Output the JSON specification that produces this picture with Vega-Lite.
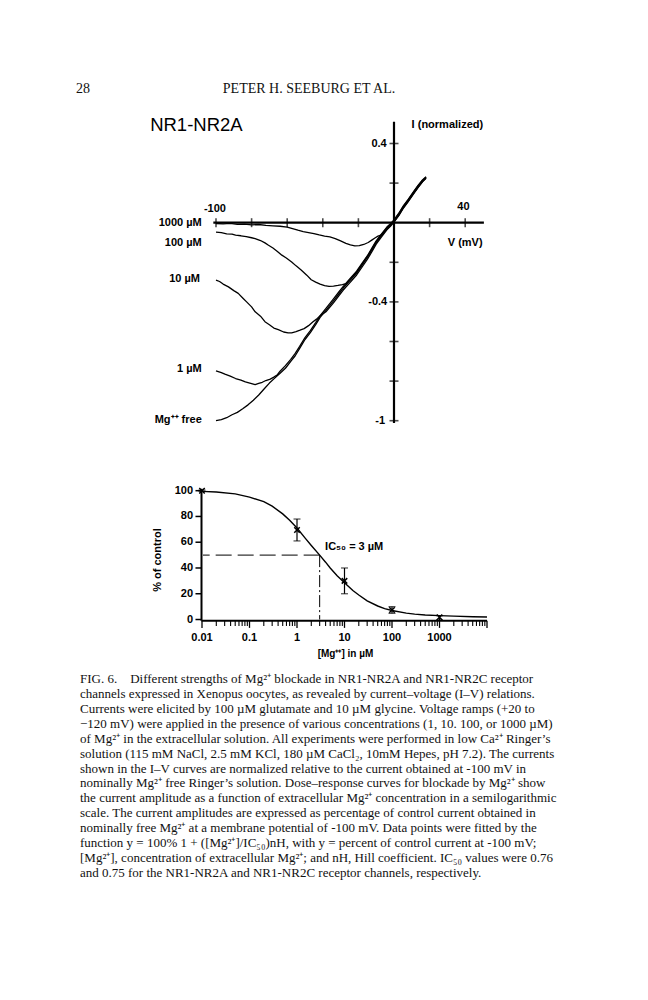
{
 "$schema": "https://vega.github.io/schema/vega-lite/v6.json",
 "width": 648, "height": 1000,
 "autosize": {"type": "none"},
 "padding": 0,
 "background": "white",
 "config": {"view": {"stroke": null}, "text": {"font": "Liberation Sans", "color": "black"}},
 "datasets": {
  "iv": [
   {"trace":"Mg free","V":-100,"I":-1.0},{"trace":"Mg free","V":-97,"I":-0.995},{"trace":"Mg free","V":-94,"I":-0.985},{"trace":"Mg free","V":-91,"I":-0.97},{"trace":"Mg free","V":-88,"I":-0.958},{"trace":"Mg free","V":-85,"I":-0.94},{"trace":"Mg free","V":-82,"I":-0.92},{"trace":"Mg free","V":-79,"I":-0.897},{"trace":"Mg free","V":-76,"I":-0.87},{"trace":"Mg free","V":-73,"I":-0.84},{"trace":"Mg free","V":-70,"I":-0.81},{"trace":"Mg free","V":-67,"I":-0.785},{"trace":"Mg free","V":-64,"I":-0.76},{"trace":"Mg free","V":-61,"I":-0.735},{"trace":"Mg free","V":-58,"I":-0.7},{"trace":"Mg free","V":-55.5,"I":-0.672},{"trace":"Mg free","V":-53,"I":-0.635},{"trace":"Mg free","V":-50,"I":-0.59},{"trace":"Mg free","V":-47,"I":-0.555},{"trace":"Mg free","V":-44,"I":-0.515},{"trace":"Mg free","V":-41.5,"I":-0.478},{"trace":"Mg free","V":-38,"I":-0.44},{"trace":"Mg free","V":-34,"I":-0.395},{"trace":"Mg free","V":-31,"I":-0.36},{"trace":"Mg free","V":-28.5,"I":-0.33},{"trace":"Mg free","V":-25,"I":-0.295},{"trace":"Mg free","V":-21,"I":-0.255},{"trace":"Mg free","V":-18,"I":-0.215},{"trace":"Mg free","V":-15,"I":-0.175},{"trace":"Mg free","V":-12.5,"I":-0.14},{"trace":"Mg free","V":-10,"I":-0.1},{"trace":"Mg free","V":-7,"I":-0.065},{"trace":"Mg free","V":-4,"I":-0.03},{"trace":"Mg free","V":-2,"I":-0.012},{"trace":"Mg free","V":0,"I":0.008},{"trace":"Mg free","V":3,"I":0.045},{"trace":"Mg free","V":5,"I":0.075},{"trace":"Mg free","V":8,"I":0.112},{"trace":"Mg free","V":11,"I":0.15},{"trace":"Mg free","V":13.5,"I":0.182},{"trace":"Mg free","V":16,"I":0.21},{"trace":"Mg free","V":18,"I":0.228},
   {"trace":"1 uM","V":-100,"I":-0.748},{"trace":"1 uM","V":-97,"I":-0.757},{"trace":"1 uM","V":-95,"I":-0.765},{"trace":"1 uM","V":-92,"I":-0.775},{"trace":"1 uM","V":-89,"I":-0.787},{"trace":"1 uM","V":-86,"I":-0.795},{"trace":"1 uM","V":-83.5,"I":-0.804},{"trace":"1 uM","V":-81,"I":-0.81},{"trace":"1 uM","V":-78,"I":-0.818},{"trace":"1 uM","V":-76,"I":-0.812},{"trace":"1 uM","V":-74,"I":-0.806},{"trace":"1 uM","V":-72,"I":-0.797},{"trace":"1 uM","V":-69.5,"I":-0.79},{"trace":"1 uM","V":-67.5,"I":-0.78},{"trace":"1 uM","V":-65.5,"I":-0.768},{"trace":"1 uM","V":-64,"I":-0.75},{"trace":"1 uM","V":-61,"I":-0.722},{"trace":"1 uM","V":-58,"I":-0.69},{"trace":"1 uM","V":-55.5,"I":-0.66},{"trace":"1 uM","V":-53,"I":-0.625},{"trace":"1 uM","V":-50,"I":-0.58},{"trace":"1 uM","V":-47,"I":-0.545},{"trace":"1 uM","V":-44,"I":-0.505},{"trace":"1 uM","V":-41.5,"I":-0.47},{"trace":"1 uM","V":-38,"I":-0.43},{"trace":"1 uM","V":-34,"I":-0.385},{"trace":"1 uM","V":-31,"I":-0.35},{"trace":"1 uM","V":-28.5,"I":-0.322},{"trace":"1 uM","V":-25,"I":-0.285},{"trace":"1 uM","V":-21,"I":-0.245},{"trace":"1 uM","V":-18,"I":-0.205},{"trace":"1 uM","V":-15,"I":-0.168},{"trace":"1 uM","V":-12.5,"I":-0.13},{"trace":"1 uM","V":-10,"I":-0.092},{"trace":"1 uM","V":-7,"I":-0.057},{"trace":"1 uM","V":-4,"I":-0.022},{"trace":"1 uM","V":-2,"I":-0.005},{"trace":"1 uM","V":0,"I":0.014},{"trace":"1 uM","V":3,"I":0.052},{"trace":"1 uM","V":5,"I":0.082},{"trace":"1 uM","V":8,"I":0.118},{"trace":"1 uM","V":11,"I":0.157},{"trace":"1 uM","V":13.5,"I":0.188},{"trace":"1 uM","V":16,"I":0.216},{"trace":"1 uM","V":18,"I":0.232},
   {"trace":"10 uM","V":-100,"I":-0.29},{"trace":"10 uM","V":-98,"I":-0.297},{"trace":"10 uM","V":-96,"I":-0.31},{"trace":"10 uM","V":-93,"I":-0.324},{"trace":"10 uM","V":-90,"I":-0.343},{"trace":"10 uM","V":-87.5,"I":-0.357},{"trace":"10 uM","V":-85,"I":-0.38},{"trace":"10 uM","V":-82.8,"I":-0.4},{"trace":"10 uM","V":-80,"I":-0.425},{"trace":"10 uM","V":-78,"I":-0.45},{"trace":"10 uM","V":-75,"I":-0.472},{"trace":"10 uM","V":-72.5,"I":-0.5},{"trace":"10 uM","V":-70,"I":-0.515},{"trace":"10 uM","V":-67.5,"I":-0.532},{"trace":"10 uM","V":-65,"I":-0.54},{"trace":"10 uM","V":-62,"I":-0.552},{"trace":"10 uM","V":-59.5,"I":-0.556},{"trace":"10 uM","V":-57.5,"I":-0.556},{"trace":"10 uM","V":-55,"I":-0.55},{"trace":"10 uM","V":-52.8,"I":-0.543},{"trace":"10 uM","V":-50.5,"I":-0.535},{"trace":"10 uM","V":-48,"I":-0.52},{"trace":"10 uM","V":-45.5,"I":-0.5},{"trace":"10 uM","V":-43.5,"I":-0.487},{"trace":"10 uM","V":-41.5,"I":-0.47},{"trace":"10 uM","V":-38,"I":-0.448},{"trace":"10 uM","V":-34,"I":-0.405},{"trace":"10 uM","V":-31,"I":-0.37},{"trace":"10 uM","V":-28.5,"I":-0.34},{"trace":"10 uM","V":-25,"I":-0.305},{"trace":"10 uM","V":-21,"I":-0.264},{"trace":"10 uM","V":-18,"I":-0.225},{"trace":"10 uM","V":-15,"I":-0.185},{"trace":"10 uM","V":-12.5,"I":-0.148},{"trace":"10 uM","V":-10,"I":-0.108},{"trace":"10 uM","V":-7,"I":-0.072},{"trace":"10 uM","V":-4,"I":-0.036},{"trace":"10 uM","V":-2,"I":-0.018},{"trace":"10 uM","V":0,"I":0.003},{"trace":"10 uM","V":3,"I":0.04},{"trace":"10 uM","V":5,"I":0.07},{"trace":"10 uM","V":8,"I":0.107},{"trace":"10 uM","V":11,"I":0.145},{"trace":"10 uM","V":13.5,"I":0.177},{"trace":"10 uM","V":16,"I":0.206},{"trace":"10 uM","V":18,"I":0.224},
   {"trace":"100 uM","V":-100,"I":-0.048},{"trace":"100 uM","V":-97,"I":-0.05},{"trace":"100 uM","V":-94,"I":-0.056},{"trace":"100 uM","V":-91,"I":-0.058},{"trace":"100 uM","V":-89,"I":-0.063},{"trace":"100 uM","V":-86,"I":-0.066},{"trace":"100 uM","V":-83,"I":-0.07},{"trace":"100 uM","V":-80,"I":-0.076},{"trace":"100 uM","V":-78,"I":-0.08},{"trace":"100 uM","V":-75,"I":-0.09},{"trace":"100 uM","V":-72.5,"I":-0.102},{"trace":"100 uM","V":-70.5,"I":-0.114},{"trace":"100 uM","V":-68,"I":-0.128},{"trace":"100 uM","V":-65.5,"I":-0.145},{"trace":"100 uM","V":-63,"I":-0.164},{"trace":"100 uM","V":-60.5,"I":-0.178},{"trace":"100 uM","V":-57.5,"I":-0.198},{"trace":"100 uM","V":-55,"I":-0.218},{"trace":"100 uM","V":-52,"I":-0.24},{"trace":"100 uM","V":-49,"I":-0.265},{"trace":"100 uM","V":-46.5,"I":-0.288},{"trace":"100 uM","V":-44,"I":-0.3},{"trace":"100 uM","V":-41.5,"I":-0.31},{"trace":"100 uM","V":-39,"I":-0.318},{"trace":"100 uM","V":-36.5,"I":-0.322},{"trace":"100 uM","V":-34,"I":-0.32},{"trace":"100 uM","V":-31.5,"I":-0.317},{"trace":"100 uM","V":-29,"I":-0.313},{"trace":"100 uM","V":-27,"I":-0.308},{"trace":"100 uM","V":-25,"I":-0.29},{"trace":"100 uM","V":-21,"I":-0.25},{"trace":"100 uM","V":-18,"I":-0.21},{"trace":"100 uM","V":-15,"I":-0.17},{"trace":"100 uM","V":-12.5,"I":-0.134},{"trace":"100 uM","V":-10,"I":-0.096},{"trace":"100 uM","V":-7,"I":-0.06},{"trace":"100 uM","V":-4,"I":-0.026},{"trace":"100 uM","V":-2,"I":-0.008},{"trace":"100 uM","V":0,"I":0.011},{"trace":"100 uM","V":3,"I":0.049},{"trace":"100 uM","V":5,"I":0.079},{"trace":"100 uM","V":8,"I":0.116},{"trace":"100 uM","V":11,"I":0.154},{"trace":"100 uM","V":13.5,"I":0.186},{"trace":"100 uM","V":16,"I":0.213},{"trace":"100 uM","V":18,"I":0.23},
   {"trace":"1000 uM","V":-100,"I":-0.004},{"trace":"1000 uM","V":-96,"I":-0.006},{"trace":"1000 uM","V":-92,"I":-0.003},{"trace":"1000 uM","V":-88,"I":-0.008},{"trace":"1000 uM","V":-84,"I":-0.007},{"trace":"1000 uM","V":-80,"I":-0.011},{"trace":"1000 uM","V":-76,"I":-0.009},{"trace":"1000 uM","V":-72,"I":-0.014},{"trace":"1000 uM","V":-68,"I":-0.016},{"trace":"1000 uM","V":-64,"I":-0.018},{"trace":"1000 uM","V":-60,"I":-0.022},{"trace":"1000 uM","V":-57,"I":-0.03},{"trace":"1000 uM","V":-54,"I":-0.038},{"trace":"1000 uM","V":-51,"I":-0.045},{"trace":"1000 uM","V":-48,"I":-0.05},{"trace":"1000 uM","V":-45,"I":-0.055},{"trace":"1000 uM","V":-42,"I":-0.062},{"trace":"1000 uM","V":-39,"I":-0.068},{"trace":"1000 uM","V":-36,"I":-0.072},{"trace":"1000 uM","V":-33,"I":-0.08},{"trace":"1000 uM","V":-30,"I":-0.092},{"trace":"1000 uM","V":-27,"I":-0.104},{"trace":"1000 uM","V":-24.5,"I":-0.112},{"trace":"1000 uM","V":-22,"I":-0.117},{"trace":"1000 uM","V":-19.5,"I":-0.116},{"trace":"1000 uM","V":-17,"I":-0.11},{"trace":"1000 uM","V":-14.5,"I":-0.1},{"trace":"1000 uM","V":-12.5,"I":-0.088},{"trace":"1000 uM","V":-10.5,"I":-0.076},{"trace":"1000 uM","V":-9,"I":-0.068},{"trace":"1000 uM","V":-7,"I":-0.062},{"trace":"1000 uM","V":-4,"I":-0.032},{"trace":"1000 uM","V":-2,"I":-0.015},{"trace":"1000 uM","V":0,"I":0.005},{"trace":"1000 uM","V":3,"I":0.042},{"trace":"1000 uM","V":5,"I":0.072},{"trace":"1000 uM","V":8,"I":0.109},{"trace":"1000 uM","V":11,"I":0.148},{"trace":"1000 uM","V":13.5,"I":0.179},{"trace":"1000 uM","V":16,"I":0.208},{"trace":"1000 uM","V":18,"I":0.226}
  ],
  "ivAxisX": [{"Vmin": -101.5, "Vmax": 50.5}],
  "ivAxisY": [{"Imin": -1.012, "Imax": 0.51}],
  "ivTickV": [{"V": -100}, {"V": -80}, {"V": -60}, {"V": -40}, {"V": -20}, {"V": 20}, {"V": 40}],
  "ivTickI": [{"I": 0.4}, {"I": 0.2}, {"I": -0.2}, {"I": -0.4}, {"I": -0.6}, {"I": -0.8}, {"I": -1}],
  "ivText": [
   {"kind": "panel", "text": "NR1-NR2A", "V": -137, "I": 0.493},
   {"kind": "trace", "text": "1000 µM", "V": -108, "I": 0},
   {"kind": "trace", "text": "100 µM", "V": -108, "I": -0.101},
   {"kind": "trace", "text": "10 µM", "V": -109, "I": -0.286},
   {"kind": "trace", "text": "1 µM", "V": -108, "I": -0.739},
   {"kind": "trace", "text": "Mg⁺⁺ free", "V": -108, "I": -0.997},
   {"kind": "yval", "text": "0.4", "V": -4.1, "I": 0.4},
   {"kind": "yval", "text": "-0.4", "V": -3.8, "I": -0.4},
   {"kind": "yval", "text": "-1", "V": -5, "I": -1.0},
   {"kind": "xval", "text": "-100", "V": -100.6, "I": 0.069},
   {"kind": "xval", "text": "40", "V": 39, "I": 0.081},
   {"kind": "xtitle", "text": "V (mV)", "V": 40, "I": -0.101},
   {"kind": "ytitle", "text": "I  (normalized)", "V": 9.9, "I": 0.493}
  ],
  "doseCurve": [
   {"conc":0.01,"pct":99.5},{"conc":0.02,"pct":99},{"conc":0.05,"pct":97.5},{"conc":0.1,"pct":95},{"conc":0.2,"pct":91.5},{"conc":0.3,"pct":88},{"conc":0.5,"pct":82},{"conc":0.7,"pct":77},{"conc":1,"pct":71},{"conc":1.5,"pct":63},{"conc":2,"pct":57.5},{"conc":3,"pct":50},{"conc":4,"pct":44.5},{"conc":5,"pct":40},{"conc":7,"pct":34},{"conc":10,"pct":28.5},{"conc":15,"pct":22.5},{"conc":20,"pct":19},{"conc":30,"pct":14.5},{"conc":50,"pct":10.5},{"conc":70,"pct":8.5},{"conc":100,"pct":7},{"conc":200,"pct":5},{"conc":300,"pct":4.2},{"conc":500,"pct":3.5},{"conc":1000,"pct":3},{"conc":2000,"pct":2.6},{"conc":5000,"pct":2.2},{"conc":10000,"pct":2}
  ],
  "doseData": [
   {"conc": 0.01, "pct": 100, "lo": 99.5, "hi": 100.5},
   {"conc": 1, "pct": 69.5, "lo": 61, "hi": 78},
   {"conc": 10, "pct": 30, "lo": 20, "hi": 40},
   {"conc": 100, "pct": 7.4, "lo": 4.8, "hi": 10},
   {"conc": 1000, "pct": 1.7, "lo": -0.4, "hi": 3}
  ],
  "ic50": [{"conc": 3, "pct": 50}],
  "doseText": [{"text": "IC₅₀ = 3 µM", "conc": 3.9, "pct": 56}],
  "drAxis": [{"c0": 0.00976, "c1": 10000, "p0": -1, "p1": 101.5}],
  "drTickMajor": [{"conc": 0.01}, {"conc": 0.1}, {"conc": 1}, {"conc": 10}, {"conc": 100}, {"conc": 1000}, {"conc": 10000}],
  "drTickMinor": [{"conc":0.02},{"conc":0.03},{"conc":0.04},{"conc":0.05},{"conc":0.06},{"conc":0.07},{"conc":0.08},{"conc":0.09},{"conc":0.2},{"conc":0.3},{"conc":0.4},{"conc":0.5},{"conc":0.6},{"conc":0.7},{"conc":0.8},{"conc":0.9},{"conc":2},{"conc":3},{"conc":4},{"conc":5},{"conc":6},{"conc":7},{"conc":8},{"conc":9},{"conc":20},{"conc":30},{"conc":40},{"conc":50},{"conc":60},{"conc":70},{"conc":80},{"conc":90},{"conc":200},{"conc":300},{"conc":400},{"conc":500},{"conc":600},{"conc":700},{"conc":800},{"conc":900},{"conc":2000},{"conc":3000},{"conc":4000},{"conc":5000},{"conc":6000},{"conc":7000},{"conc":8000},{"conc":9000}],
  "drTickY": [{"pct": 0}, {"pct": 20}, {"pct": 40}, {"pct": 60}, {"pct": 80}, {"pct": 100}],
  "drLabX": [{"label": "0.01", "conc": 0.01}, {"label": "0.1", "conc": 0.1}, {"label": "1", "conc": 1}, {"label": "10", "conc": 10}, {"label": "100", "conc": 100}, {"label": "1000", "conc": 1000}],
  "drLabY": [{"label": "0", "pct": 0}, {"label": "20", "pct": 20}, {"label": "40", "pct": 40}, {"label": "60", "pct": 60}, {"label": "80", "pct": 80}, {"label": "100", "pct": 100}],
  "drTitleX": [{"text": "[Mg⁺⁺] in µM", "conc": 10.5, "pct": -27}],
  "drTitleY": [{"text": "% of control", "conc": 0.0012, "pct": 46.2}],
  "header": [{"item": "folio", "text": "28"}, {"item": "running head", "text": "PETER H. SEEBURG ET AL."}],
  "caption": [
   {"line": 0, "text": "\u00a0\u00a0\u00a0FIG. 6.\u00a0\u00a0\u00a0 Different strengths of Mg²⁺ blockade in NR1-NR2A and NR1-NR2C receptor"},
   {"line": 1, "text": "channels expressed in Xenopus oocytes, as revealed by current–voltage (I–V) relations."},
   {"line": 2, "text": "Currents were elicited by 100 µM glutamate and 10 µM glycine. Voltage ramps (+20 to"},
   {"line": 3, "text": "−120 mV) were applied in the presence of various concentrations (1, 10. 100, or 1000 µM)"},
   {"line": 4, "text": "of Mg²⁺ in the extracellular solution. All experiments were performed in low Ca²⁺ Ringer’s"},
   {"line": 5, "text": "solution (115 mM NaCl, 2.5 mM KCl, 180 µM CaCl₂, 10mM Hepes, pH 7.2). The currents"},
   {"line": 6, "text": "shown in the I–V curves are normalized relative to the current obtained at -100 mV in"},
   {"line": 7, "text": "nominally Mg²⁺ free Ringer’s solution. Dose–response curves for blockade by Mg²⁺ show"},
   {"line": 8, "text": "the current amplitude as a function of extracellular Mg²⁺ concentration in a semilogarithmic"},
   {"line": 9, "text": "scale. The current amplitudes are expressed as percentage of control current obtained in"},
   {"line": 10, "text": "nominally free Mg²⁺ at a membrane potential of -100 mV. Data points were fitted by the"},
   {"line": 11, "text": "function y = 100% 1 + ([Mg²⁺]/IC₅₀)nH, with y = percent of control current at -100 mV;"},
   {"line": 12, "text": "[Mg²⁺], concentration of extracellular Mg²⁺; and nH, Hill coefficient. IC₅₀ values were 0.76"},
   {"line": 13, "text": "and 0.75 for the NR1-NR2A and NR1-NR2C receptor channels, respectively."}
  ]
 },
 "layer": [
  {
   "layer": [
    {"data": {"name": "ivAxisX"}, "mark": {"type": "rule", "color": "black", "strokeWidth": 2.2},
     "encoding": {"x": {"field": "Vmin", "type": "quantitative", "scale": {"domain": [-100, 40], "range": [216, 465.2], "nice": false, "zero": false}, "axis": null}, "x2": {"field": "Vmax"},
      "y": {"datum": 0, "type": "quantitative", "scale": {"domain": [-1, 0.4], "range": [420.7, 143.5], "nice": false, "zero": false}, "axis": null}}},
    {"data": {"name": "ivAxisY"}, "mark": {"type": "rule", "color": "black", "strokeWidth": 2.2},
     "encoding": {"x": {"datum": 0, "type": "quantitative", "axis": null}, "y": {"field": "Imin", "type": "quantitative", "axis": null}, "y2": {"field": "Imax"}}},
    {"data": {"name": "ivTickV"}, "mark": {"type": "tick", "orient": "vertical", "color": "black", "size": 9, "thickness": 1.6},
     "encoding": {"x": {"field": "V", "type": "quantitative", "axis": null}, "y": {"datum": 0, "type": "quantitative", "axis": null}}},
    {"data": {"name": "ivTickI"}, "mark": {"type": "tick", "orient": "horizontal", "color": "black", "size": 9, "thickness": 1.6},
     "encoding": {"x": {"datum": 0, "type": "quantitative", "axis": null}, "y": {"field": "I", "type": "quantitative", "axis": null}}},
    {"data": {"name": "iv"}, "mark": {"type": "line", "color": "black", "strokeWidth": 1.3, "strokeJoin": "round"},
     "encoding": {"x": {"field": "V", "type": "quantitative", "axis": null}, "y": {"field": "I", "type": "quantitative", "axis": null}, "detail": {"field": "trace"}}},
    {"data": {"name": "ivText"}, "transform": [{"filter": {"field": "kind", "oneOf": ["trace", "yval"]}}],
     "mark": {"type": "text", "align": "right", "baseline": "middle", "fontSize": 11, "fontWeight": "bold"},
     "encoding": {"x": {"field": "V", "type": "quantitative", "axis": null}, "y": {"field": "I", "type": "quantitative", "axis": null}, "text": {"field": "text"}}},
    {"data": {"name": "ivText"}, "transform": [{"filter": {"field": "kind", "oneOf": ["xval", "xtitle"]}}],
     "mark": {"type": "text", "align": "center", "baseline": "middle", "fontSize": 11, "fontWeight": "bold"},
     "encoding": {"x": {"field": "V", "type": "quantitative", "axis": null}, "y": {"field": "I", "type": "quantitative", "axis": null}, "text": {"field": "text"}}},
    {"data": {"name": "ivText"}, "transform": [{"filter": {"field": "kind", "equal": "ytitle"}}],
     "mark": {"type": "text", "align": "left", "baseline": "middle", "fontSize": 11, "fontWeight": "bold"},
     "encoding": {"x": {"field": "V", "type": "quantitative", "axis": null}, "y": {"field": "I", "type": "quantitative", "axis": null}, "text": {"field": "text"}}},
    {"data": {"name": "ivText"}, "transform": [{"filter": {"field": "kind", "equal": "panel"}}],
     "mark": {"type": "text", "align": "left", "baseline": "middle", "fontSize": 18.5},
     "encoding": {"x": {"field": "V", "type": "quantitative", "axis": null}, "y": {"field": "I", "type": "quantitative", "axis": null}, "text": {"field": "text"}}}
   ]
  },
  {
   "layer": [
    {"data": {"name": "drAxis"}, "mark": {"type": "rule", "color": "black", "strokeWidth": 2},
     "encoding": {"x": {"field": "c0", "type": "quantitative", "scale": {"type": "log", "domain": [0.01, 10000], "range": [202, 487], "nice": false}, "axis": null}, "x2": {"field": "c1"},
      "y": {"field": "p0", "type": "quantitative", "scale": {"domain": [-1, 101], "range": [620.8, 489.4], "nice": false, "zero": false}, "axis": null}}},
    {"data": {"name": "drAxis"}, "mark": {"type": "rule", "color": "black", "strokeWidth": 2},
     "encoding": {"x": {"field": "c0", "type": "quantitative", "axis": null}, "y": {"field": "p0", "type": "quantitative", "axis": null}, "y2": {"field": "p1"}}},
    {"data": {"name": "drTickMajor"}, "mark": {"type": "rule", "color": "black", "strokeWidth": 1.3},
     "encoding": {"x": {"field": "conc", "type": "quantitative", "axis": null}, "y": {"datum": -1, "type": "quantitative", "axis": null}, "y2": {"datum": -6.5}}},
    {"data": {"name": "drTickMinor"}, "mark": {"type": "rule", "color": "black", "strokeWidth": 1.1},
     "encoding": {"x": {"field": "conc", "type": "quantitative", "axis": null}, "y": {"datum": -1, "type": "quantitative", "axis": null}, "y2": {"datum": -5}}},
    {"data": {"name": "drTickY"}, "mark": {"type": "rule", "color": "black", "strokeWidth": 1.5},
     "encoding": {"x": {"datum": 0.00976, "type": "quantitative", "axis": null}, "x2": {"datum": 0.00729}, "y": {"field": "pct", "type": "quantitative", "axis": null}}},
    {"data": {"name": "drLabX"}, "mark": {"type": "text", "align": "center", "baseline": "middle", "fontSize": 11, "fontWeight": "bold"},
     "encoding": {"x": {"field": "conc", "type": "quantitative", "axis": null}, "y": {"datum": -14.3, "type": "quantitative", "axis": null}, "text": {"field": "label"}}},
    {"data": {"name": "drLabY"}, "mark": {"type": "text", "align": "right", "baseline": "middle", "fontSize": 11, "fontWeight": "bold"},
     "encoding": {"x": {"datum": 0.00647, "type": "quantitative", "axis": null}, "y": {"field": "pct", "type": "quantitative", "axis": null}, "text": {"field": "label"}}},
    {"data": {"name": "drTitleX"}, "mark": {"type": "text", "align": "center", "baseline": "middle", "fontSize": 10, "fontWeight": "bold"},
     "encoding": {"x": {"field": "conc", "type": "quantitative", "axis": null}, "y": {"field": "pct", "type": "quantitative", "axis": null}, "text": {"field": "text"}}},
    {"data": {"name": "drTitleY"}, "mark": {"type": "text", "align": "center", "baseline": "middle", "fontSize": 11, "fontWeight": "bold", "angle": -90},
     "encoding": {"x": {"field": "conc", "type": "quantitative", "axis": null}, "y": {"field": "pct", "type": "quantitative", "axis": null}, "text": {"field": "text"}}},
    {"data": {"name": "doseCurve"}, "mark": {"type": "line", "color": "black", "strokeWidth": 1.4},
     "encoding": {"x": {"field": "conc", "type": "quantitative", "axis": null}, "y": {"field": "pct", "type": "quantitative", "axis": null}}},
    {"data": {"name": "ic50"}, "mark": {"type": "rule", "color": "black", "strokeWidth": 1, "strokeDash": [16, 6]},
     "encoding": {"x": {"field": "conc", "type": "quantitative", "axis": null}, "x2": {"datum": 0.0105}, "y": {"field": "pct", "type": "quantitative", "axis": null}}},
    {"data": {"name": "ic50"}, "mark": {"type": "rule", "color": "black", "strokeWidth": 1, "strokeDash": [12, 3, 2, 3]},
     "encoding": {"x": {"field": "conc", "type": "quantitative", "axis": null}, "y": {"field": "pct", "type": "quantitative", "axis": null}, "y2": {"datum": 0}}},
    {"data": {"name": "doseData"}, "mark": {"type": "rule", "color": "black", "strokeWidth": 1.2},
     "encoding": {"x": {"field": "conc", "type": "quantitative", "axis": null}, "y": {"field": "lo", "type": "quantitative", "axis": null}, "y2": {"field": "hi"}}},
    {"data": {"name": "doseData"}, "mark": {"type": "tick", "orient": "horizontal", "color": "black", "size": 7, "thickness": 1.2},
     "encoding": {"x": {"field": "conc", "type": "quantitative", "axis": null}, "y": {"field": "lo", "type": "quantitative", "axis": null}}},
    {"data": {"name": "doseData"}, "mark": {"type": "tick", "orient": "horizontal", "color": "black", "size": 7, "thickness": 1.2},
     "encoding": {"x": {"field": "conc", "type": "quantitative", "axis": null}, "y": {"field": "hi", "type": "quantitative", "axis": null}}},
    {"data": {"name": "doseData"}, "mark": {"type": "point", "shape": "M -1 -1 L 1 1 M -1 1 L 1 -1", "filled": false, "stroke": "black", "strokeWidth": 1.5, "size": 30, "opacity": 1},
     "encoding": {"x": {"field": "conc", "type": "quantitative", "axis": null}, "y": {"field": "pct", "type": "quantitative", "axis": null}}},
    {"data": {"name": "doseText"}, "mark": {"type": "text", "align": "left", "baseline": "middle", "fontSize": 11, "fontWeight": "bold"},
     "encoding": {"x": {"field": "conc", "type": "quantitative", "axis": null}, "y": {"field": "pct", "type": "quantitative", "axis": null}, "text": {"field": "text"}}}
   ]
  },
  {"data": {"name": "header"}, "mark": {"type": "text", "font": "Liberation Serif", "fontSize": 14, "align": "center", "baseline": "middle", "color": "#111"},
   "encoding": {"x": {"field": "item", "type": "nominal", "scale": {"type": "point", "domain": ["folio", "running head"], "range": [83, 309], "padding": 0}, "axis": null},
    "y": {"datum": 0, "type": "quantitative", "scale": {"domain": [0, 1], "range": [89, 100]}, "axis": null},
    "text": {"field": "text"}}},
  {"data": {"name": "caption"}, "mark": {"type": "text", "font": "Liberation Serif", "fontSize": 13, "align": "left", "baseline": "middle", "color": "#111"},
   "encoding": {"x": {"datum": 0, "type": "quantitative", "scale": {"domain": [0, 1], "range": [80, 558]}, "axis": null},
    "y": {"field": "line", "type": "quantitative", "scale": {"domain": [0, 13], "range": [679, 873], "nice": false, "zero": false}, "axis": null},
    "text": {"field": "text"}}}
 ],
 "resolve": {"scale": {"x": "independent", "y": "independent"}}
}
